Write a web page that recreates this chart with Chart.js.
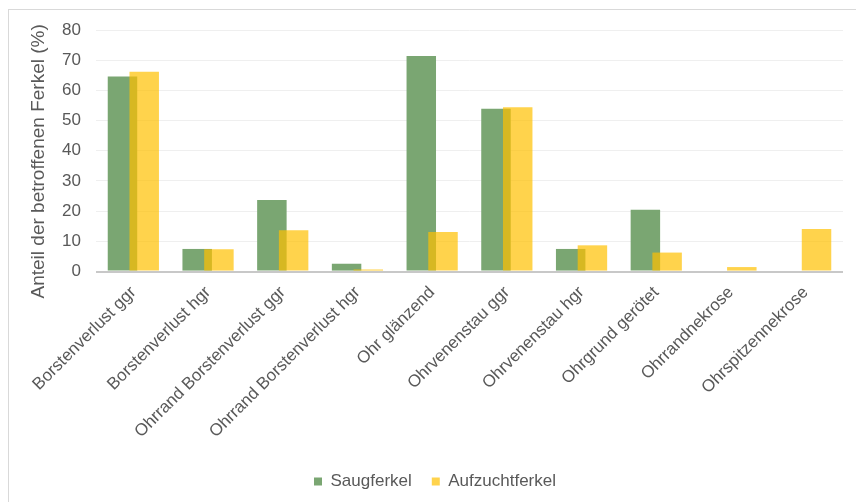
<!DOCTYPE html>
<html lang="de">
<head>
  <meta charset="UTF-8" />
  <title>Anteil der betroffenen Ferkel</title>
  <script src="https://cdn.jsdelivr.net/npm/chart.js"></script>
  <style>
    body {
      margin: 0;
      background: #fff;
      overflow: hidden;
      font-family: "Liberation Sans", Arial, sans-serif;
    }
    .frame {
      position: absolute;
      left: 8px;
      top: 9px;
      width: 900px;
      height: 600px;
      border: 1px solid #d9d9d9;
    }
    .wrap {
      position: absolute;
      left: 0;
      top: 0;
      width: 856px;
      height: 502px;
    }
  </style>
</head>
<body>
  <div class="frame"></div>
  <div class="wrap"><canvas id="barChart"></canvas></div>

  <script>
    const kategorien = [
      'Borstenverlust ggr',
      'Borstenverlust hgr',
      'Ohrrand Borstenverlust ggr',
      'Ohrrand Borstenverlust hgr',
      'Ohr glänzend',
      'Ohrvenenstau ggr',
      'Ohrvenenstau hgr',
      'Ohrgrund gerötet',
      'Ohrrandnekrose',
      'Ohrspitzennekrose'
    ];
    const saugferkel = [64.6, 7.5, 23.7, 2.6, 71.4, 53.9, 7.5, 20.5, 0, 0];
    const aufzuchtferkel = [66.2, 7.4, 13.7, 0.7, 13.1, 54.4, 8.7, 6.3, 1.5, 14.1];
    const yTicks = [0, 10, 20, 30, 40, 50, 60, 70, 80];

    const grau = '#595959';

    // Aufzuchtferkel soll über Saugferkel liegen (wie im Original)
    const zeichenReihenfolge = {
      id: 'zeichenReihenfolge',
      beforeDatasetsDraw(chart) {
        chart.data.datasets.forEach((ds, i) => {
          const meta = chart.getDatasetMeta(i);
          if (!meta.hidden) meta.controller.draw();
        });
        return false;
      }
    };

    const ctx = document.getElementById('barChart').getContext('2d');
    new Chart(ctx, {
      type: 'bar',
      data: {
        labels: kategorien,
        datasets: [
          {
            label: 'Saugferkel',
            data: saugferkel,
            backgroundColor: '#7aa672',
            borderWidth: 0,
            categoryPercentage: 0.582,
            barPercentage: 1.356
          },
          {
            label: 'Aufzuchtferkel',
            data: aufzuchtferkel,
            backgroundColor: 'rgba(255, 192, 0, 0.7)',
            borderWidth: 0,
            categoryPercentage: 0.582,
            barPercentage: 1.356
          }
        ]
      },
      options: {
        responsive: true,
        maintainAspectRatio: false,
        animation: false,
        layout: {
          padding: { left: 27, right: 13, top: 30, bottom: 2 }
        },
        plugins: {
          tooltip: { enabled: false },
          legend: {
            position: 'bottom',
            labels: {
              boxWidth: 8,
              boxHeight: 8,
              padding: 20,
              color: grau,
              font: { family: '"Liberation Sans", Arial', size: 17 }
            }
          }
        },
        scales: {
          x: {
            grid: { display: false },
            border: { display: false },
            afterFit: scale => {
              scale.height += 8;
            },
            ticks: {
              color: grau,
              maxRotation: 45,
              minRotation: 45,
              padding: 3,
              font: { family: '"Liberation Sans", Arial', size: 17 }
            }
          },
          y: {
            min: 0,
            max: 80,
            afterBuildTicks: scale => {
              scale.ticks = yTicks.map(v => ({ value: v }));
            },
            afterFit: scale => {
              scale.width = 69;
            },
            border: { display: false },
            grid: {
              drawTicks: false,
              color: c => c.tick && c.tick.value === 0 ? '#c8c8c8' : '#efefef',
              lineWidth: c => c.tick && c.tick.value === 0 ? 2 : 1
            },
            ticks: {
              color: grau,
              padding: 15,
              font: { family: '"Liberation Sans", Arial', size: 17 }
            },
            title: {
              display: true,
              text: 'Anteil der betroffenen Ferkel (%)    ',
              color: grau,
              padding: { top: 0, bottom: 0 },
              font: { family: '"Liberation Sans", Arial', size: 19 }
            }
          }
        }
      },
      plugins: [zeichenReihenfolge]
    });
  </script>
</body>
</html>
